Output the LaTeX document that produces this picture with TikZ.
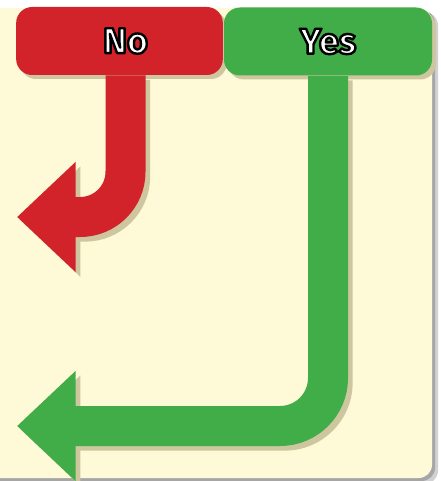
\documentclass[tikz,border=0pt]{standalone}
\usepackage{fontspec}
\setmainfont{Fira Sans}
\usetikzlibrary{arrows.meta}
\definecolor{nored}{RGB}{210,35,42}
\definecolor{yesgreen}{RGB}{65,173,73}
\definecolor{cream}{RGB}{254,249,214}
\definecolor{shadowcol}{RGB}{205,198,158}
\newcommand{\outlined}[1]{\color{white}\special{pdf:literal direct 2 Tr 1.8 w 1 j 0 0 0 RG}#1\special{pdf:literal direct 0 Tr}}

\begin{document}
\begin{tikzpicture}[x=0.75pt, y=-0.75pt]
                    \tikzset{choice/.style={rounded corners=12pt, minimum width=155pt, minimum height=51pt, inner sep=0pt, font=\fontsize{27}{30}\selectfont\bfseries, preaction={fill=shadowcol, transform canvas={shift={(3pt,-3pt)}}}},
                             bigarrow/.style={line width=30pt, -{Triangle[length=44pt, width=80pt]}},
                             arrowshadow/.style={bigarrow, shadowcol, transform canvas={shift={(3.5pt,-3.5pt)}}}}
                    \useasboundingbox (0,0) rectangle (440,481);
                    \fill[black!18, rounded corners=10pt] (-20,12) rectangle (438,484);
                    \fill[black!35, rounded corners=10pt] (-20,10) rectangle (435,481);
                    \fill[cream, rounded corners=10pt] (-20,8) rectangle (432,478);

                    \node[choice, fill=nored] (no) at (119.5,41) {\hspace*{9pt}\outlined{No}};
                    \node[choice, fill=yesgreen, minimum width=156pt] (yes) at (328,41.5) {\outlined{Yes}};
                    \coordinate (noend) at (17,217);
                    \coordinate (yesend) at (17,426);

                    \draw[arrowshadow] ([xshift=4.5pt]no.south) [rounded corners=34pt] -- ([xshift=4.5pt]no.south |- noend) [sharp corners] -- (noend);
                    \draw[bigarrow, nored] ([xshift=4.5pt]no.south) [rounded corners=34pt] -- ([xshift=4.5pt]no.south |- noend) [sharp corners] -- (noend);
                    \draw[arrowshadow] (yes.south) [rounded corners=36pt] -- (yes.south |- yesend) [sharp corners] -- (yesend);
                    \draw[bigarrow, yesgreen] (yes.south) [rounded corners=36pt] -- (yes.south |- yesend) [sharp corners] -- (yesend);
                \end{tikzpicture}
\end{document}
